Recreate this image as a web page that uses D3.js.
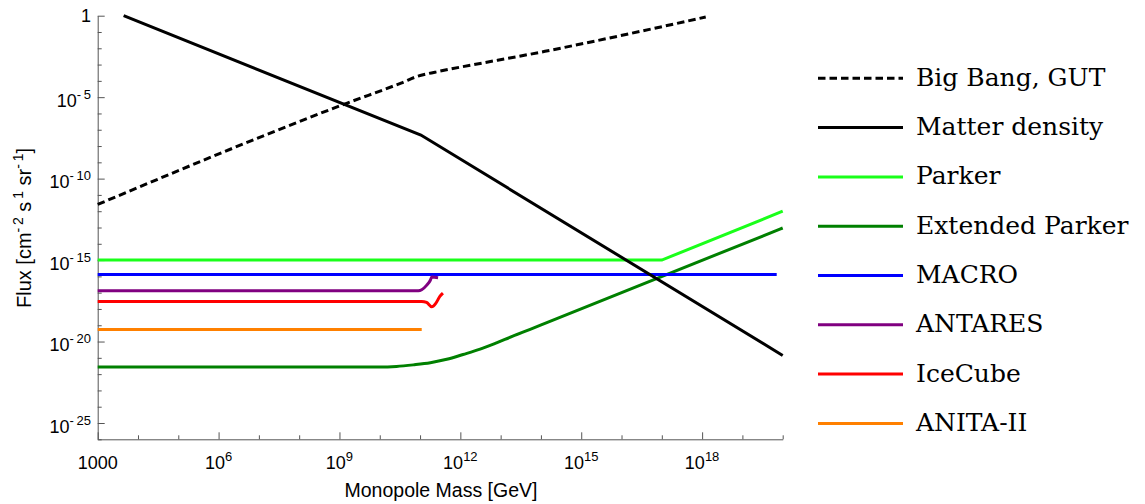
<!DOCTYPE html>
<html>
<head>
<meta charset="utf-8">
<script src="https://cdn.jsdelivr.net/npm/d3@7"></script>
<style>
  body { margin: 0; background: #fff; }
  svg { display: block; }
</style>
</head>
<body>
<div id="chart"></div>
<script>
// monopole flux bounds (mass in GeV, flux in cm^-2 s^-1 sr^-1)
var bigBangMass = [1e3, 1.5e9, 3.5e10, 8.9e10, 1.6e11, 2.75e11, 1.26e14, 1.23e18];
var bigBangFlux = [2.6e-12, 4.2e-6, 7.6e-5, 1.95e-4, 2.8e-4, 3.7e-4, 6.5e-3, 0.83];

var matterMass = [4.4e3, 1.05e11, 1e20];
var matterFlux = [1, 4.7e-8, 1.4e-21];

var parkerMass = [1e3, 1e17, 1e20];
var parkerFlux = [1e-15, 1e-15, 1e-12];

var extParkerMass = [1e3, 1e10, 2.6e10, 6.8e10, 1.8e11, 4.6e11, 1.17e12, 3.1e12, 7.9e12, 2.0e13, 5.4e13, 1.4e14, 1e20];
var extParkerFlux = [2.7e-22, 2.7e-22, 2.95e-22, 3.7e-22, 5.0e-22, 8.1e-22, 1.6e-21, 3.4e-21, 8.3e-21, 2.15e-20, 5.6e-20, 1.45e-19, 9.3e-14];

var macroMass = [1e3, 7.1e19];
var macroFlux = [1.3e-16, 1.3e-16];

var antaresMass = [1e3, 9.1e10, 1.1e11, 1.45e11, 1.8e11, 1.95e11, 2.8e11];
var antaresFlux = [1.3e-17, 1.3e-17, 1.5e-17, 2.8e-17, 5.8e-17, 9.1e-17, 8.3e-17];

var iceCubeMass = [1e3, 1.1e11, 1.45e11, 1.95e11, 2.45e11, 3.1e11, 3.7e11];
var iceCubeFlux = [2.9e-18, 2.9e-18, 2.5e-18, 1.35e-18, 2.2e-18, 5.9e-18, 9.3e-18];

var anitaMass = [1e3, 1.1e11];
var anitaFlux = [5.5e-20, 5.5e-20];

var seriesNames = ["Big Bang, GUT", "Matter density", "Parker", "Extended Parker", "MACRO", "ANTARES", "IceCube", "ANITA-II"];

var xMajorExp = [3, 6, 9, 12, 15, 18];
var yMajorExp = [0, -5, -10, -15, -20, -25];

// ---- layout
var W = 1145, H = 504;
var x = d3.scaleLog().domain([1e3, 1e20]).range([97.7, 782.7]);
var y = d3.scaleLog().domain([1e-26, 1]).range([439.3, 15.7]);

var svg = d3.select("#chart").append("svg")
    .attr("width", W)
    .attr("height", H);

var axisColor = "#555";
var tickFont = "'Liberation Sans', Arial, sans-serif";

var xDecades = d3.range(3, 21).map(function (e) { return Math.pow(10, e); });
var yDecades = d3.range(-26, 1).map(function (e) { return Math.pow(10, e); });

var gx = svg.append("g")
    .attr("transform", "translate(0," + y.range()[0] + ")")
    .call(d3.axisBottom(x).tickValues(xDecades).tickSize(-4).tickSizeOuter(0).tickFormat(""));
gx.selectAll(".tick line").attr("y2", function (d) {
    return xMajorExp.indexOf(Math.round(Math.log10(d))) >= 0 ? -7 : -4;
});

var gy = svg.append("g")
    .attr("transform", "translate(" + x.range()[0] + ",0)")
    .call(d3.axisLeft(y).tickValues(yDecades).tickSize(-4).tickSizeOuter(0).tickFormat(""));
gy.selectAll(".tick line").attr("x2", function (d) {
    return yMajorExp.indexOf(Math.round(Math.log10(d))) >= 0 ? 7 : 4;
});

svg.selectAll(".domain, .tick line").attr("stroke", axisColor).attr("stroke-width", 1);

// x tick labels
xMajorExp.forEach(function (e) {
    var t = svg.append("text")
        .attr("x", x(Math.pow(10, e)))
        .attr("y", 469)
        .attr("text-anchor", "middle")
        .style("font-family", tickFont)
        .style("font-size", "18px");
    if (e === 3) {
        t.text("1000");
    } else {
        t.append("tspan").text("10");
        t.append("tspan").attr("dy", -8).style("font-size", "13px").text(e);
    }
});

// y tick labels
yMajorExp.forEach(function (e) {
    var yy = y(Math.pow(10, e));
    var t = svg.append("text")
        .attr("x", 91)
        .attr("text-anchor", "end")
        .style("font-family", tickFont)
        .style("font-size", "18px");
    if (e === 0) {
        t.attr("y", yy + 6.5).text("1");
    } else {
        t.attr("y", yy + 9.5);
        t.append("tspan").text("10");
        t.append("tspan").attr("dy", -8).style("font-size", "13px").text("-\u2009" + (-e));
    }
});

// axis titles
svg.append("text")
    .attr("x", 441)
    .attr("y", 497)
    .attr("text-anchor", "middle")
    .style("font-family", tickFont)
    .style("font-size", "19.5px")
    .text("Monopole Mass [GeV]");

var yt = svg.append("text")
    .attr("transform", "translate(31,228) rotate(-90)")
    .attr("text-anchor", "middle")
    .style("font-family", tickFont)
    .style("font-size", "20px");
yt.append("tspan").text("Flux [cm");
yt.append("tspan").attr("dy", -8).style("font-size", "14px").text("-\u20092");
yt.append("tspan").attr("dy", 8).text(" s");
yt.append("tspan").attr("dy", -8).style("font-size", "14px").text("\u20091");
yt.append("tspan").attr("dy", 8).text(" sr");
yt.append("tspan").attr("dy", -8).style("font-size", "14px").text("-\u20091");
yt.append("tspan").attr("dy", 8).text("]");

// ---- series
function pairs(m, f) { return m.map(function (v, i) { return [v, f[i]]; }); }

var series = [
    { name: seriesNames[0], data: pairs(bigBangMass, bigBangFlux), color: "#000", dash: "7.5,4", curve: d3.curveMonotoneX },
    { name: seriesNames[1], data: pairs(matterMass, matterFlux), color: "#000", dash: null, curve: d3.curveLinear },
    { name: seriesNames[2], data: pairs(parkerMass, parkerFlux), color: "#1aff1a", dash: null, curve: d3.curveLinear },
    { name: seriesNames[3], data: pairs(extParkerMass, extParkerFlux), color: "#008000", dash: null, curve: d3.curveMonotoneX },
    { name: seriesNames[4], data: pairs(macroMass, macroFlux), color: "#0000ff", dash: null, curve: d3.curveLinear },
    { name: seriesNames[5], data: pairs(antaresMass, antaresFlux), color: "#800080", dash: null, curve: d3.curveMonotoneX },
    { name: seriesNames[6], data: pairs(iceCubeMass, iceCubeFlux), color: "#ff0000", dash: null, curve: d3.curveMonotoneX },
    { name: seriesNames[7], data: pairs(anitaMass, anitaFlux), color: "#ff8000", dash: null, curve: d3.curveLinear }
];

// draw coloured ones first, black on top like the reference
var drawOrder = [2, 3, 4, 5, 6, 7, 0, 1];
drawOrder.forEach(function (i) {
    var s = series[i];
    var line = d3.line()
        .x(function (d) { return x(d[0]); })
        .y(function (d) { return y(d[1]); })
        .curve(s.curve);
    svg.append("path")
        .datum(s.data)
        .attr("d", line)
        .attr("fill", "none")
        .attr("stroke", s.color)
        .attr("stroke-width", 3)
        .attr("stroke-dasharray", s.dash);
});

// ---- legend
var lg = svg.append("g");
series.forEach(function (s, i) {
    var ly = 78.3 + i * 49.3;
    lg.append("line")
        .attr("x1", 818).attr("x2", 903)
        .attr("y1", ly).attr("y2", ly)
        .attr("stroke", s.color)
        .attr("stroke-width", 3)
        .attr("stroke-dasharray", s.dash);
    lg.append("text")
        .attr("x", 916)
        .attr("y", ly + 7.5)
        .style("font-family", "'DejaVu Serif', serif")
        .style("font-size", "25px")
        .text(s.name);
});
</script>
</body>
</html>
